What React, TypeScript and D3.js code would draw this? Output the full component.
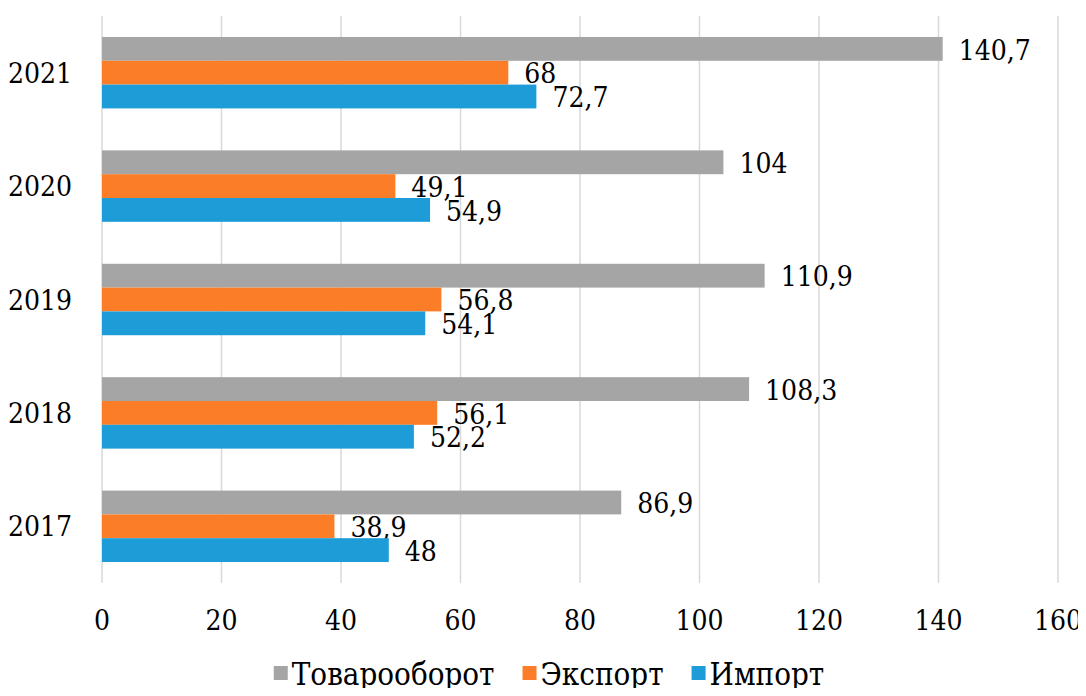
import React, { useRef, useEffect } from 'react';
import * as d3 from 'd3';

// Data
const years = ['2021', '2020', '2019', '2018', '2017'];
const seriesNames = ['Товарооборот', 'Экспорт', 'Импорт'];
const turnover = [140.7, 104, 110.9, 108.3, 86.9];
const exports = [68, 49.1, 56.8, 56.1, 38.9];
const imports = [72.7, 54.9, 54.1, 52.2, 48];
const xTicks = [0, 20, 40, 60, 80, 100, 120, 140, 160];
const colors = ['#A5A5A5', '#FB7D27', '#1E9CD8'];

const FONT = "'DejaVu Serif Condensed', 'DejaVu Serif', serif";

const App = () => {
  const svgRef = useRef<SVGSVGElement>(null);

  useEffect(() => {
    const width = 1086;
    const height = 696;
    const fontSize = 28;

    const svg = d3.select(svgRef.current)
      .attr('width', width)
      .attr('height', height);

    svg.selectAll('*').remove();

    const values = [turnover, exports, imports];

    // scales
    const x = d3.scaleLinear().domain([0, 160]).range([102, 1058]);
    const y = d3.scaleBand()
      .domain(years)
      .range([16, 583])
      .paddingInner(0.37)
      .paddingOuter(0.185);
    const ySub = d3.scaleBand()
      .domain(seriesNames)
      .range([0, y.bandwidth()]);

    // vertical gridlines
    svg.append('g')
      .selectAll('line')
      .data(xTicks)
      .enter()
      .append('line')
      .attr('x1', d => x(d))
      .attr('x2', d => x(d))
      .attr('y1', 16)
      .attr('y2', 583)
      .attr('stroke', '#D9D9D9')
      .attr('stroke-width', 1.5);

    // x tick labels
    svg.append('g')
      .selectAll('text')
      .data(xTicks)
      .enter()
      .append('text')
      .attr('x', d => x(d))
      .attr('y', 630)
      .attr('text-anchor', 'middle')
      .text(d => d);

    // y category labels
    svg.append('g')
      .selectAll('text')
      .data(years)
      .enter()
      .append('text')
      .attr('x', 72)
      .attr('y', d => y(d) + y.bandwidth() / 2)
      .attr('dy', '0.36em')
      .attr('text-anchor', 'end')
      .text(d => d);

    // bars + value labels, one group per series
    seriesNames.forEach((name, si) => {
      const rows = years.map((yr, i) => ({ yr, v: values[si][i] }));
      const g = svg.append('g');

      g.selectAll('rect')
        .data(rows)
        .enter()
        .append('rect')
        .attr('x', x(0))
        .attr('y', d => y(d.yr) + ySub(name))
        .attr('width', d => x(d.v) - x(0))
        .attr('height', ySub.bandwidth())
        .attr('fill', colors[si]);

      g.selectAll('text')
        .data(rows)
        .enter()
        .append('text')
        .attr('x', d => x(d.v) + 16)
        .attr('y', d => y(d.yr) + ySub(name) + ySub.bandwidth() / 2)
        .attr('dy', '0.38em')
        .text(d => String(d.v).replace('.', ','));
    });

    svg.selectAll('text')
      .style('font-family', FONT)
      .style('font-size', `${fontSize}px`)
      .attr('fill', '#000');

    // legend, centered below the plot
    const legend = svg.append('g');
    const items = legend.selectAll('g')
      .data(seriesNames)
      .enter()
      .append('g');
    items.append('rect')
      .attr('width', 14)
      .attr('height', 14)
      .attr('y', -19)
      .attr('fill', (d, i) => colors[i]);
    items.append('text')
      .attr('x', 18)
      .style('font-family', FONT)
      .style('font-size', '31px')
      .attr('fill', '#000')
      .text(d => d);

    let offset = 0;
    const gap = 28;
    items.each(function () {
      const w = (this as SVGGElement).getBBox().width;
      d3.select(this).attr('transform', `translate(${offset},0)`);
      offset += w + gap;
    });
    const total = offset - gap;
    legend.attr('transform', `translate(${549 - total / 2},685)`);
  }, []);

  return <svg ref={svgRef} style={{ display: 'block', margin: -8 }}></svg>;
};

export default App;
